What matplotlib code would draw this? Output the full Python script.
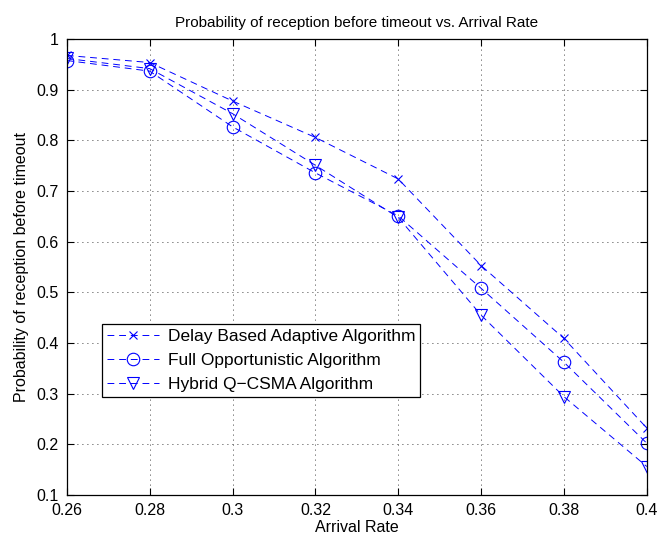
import matplotlib
matplotlib.use('Agg')
import matplotlib.pyplot as plt

# Arrival rate values (x axis)
arrival_rate = [0.26, 0.28, 0.30, 0.32, 0.34, 0.36, 0.38, 0.40]

# Probability of reception before timeout for each algorithm
delay_based = [0.968, 0.954, 0.878, 0.806, 0.724, 0.553, 0.409, 0.232]
full_opportunistic = [0.958, 0.937, 0.827, 0.736, 0.651, 0.508, 0.362, 0.202]
hybrid_qcsma = [0.962, 0.942, 0.853, 0.751, 0.648, 0.455, 0.294, 0.156]

plt.rcParams['font.family'] = ['Liberation Sans', 'DejaVu Sans']
plt.rcParams['font.size'] = 11.5

fig = plt.figure(figsize=(6.62, 5.45), dpi=100)
ax = fig.add_axes([0.101, 0.092, 0.876, 0.836])

dash = (0, (7, 5))
ax.plot(arrival_rate, delay_based, color='blue', linestyle=dash, linewidth=0.7,
        marker='x', markersize=6, markeredgewidth=0.8, label='Delay Based Adaptive Algorithm')
ax.plot(arrival_rate, full_opportunistic, color='blue', linestyle=dash, linewidth=0.7,
        marker='o', markersize=9, markerfacecolor='none', markeredgewidth=0.8,
        label='Full Opportunistic Algorithm')
ax.plot(arrival_rate, hybrid_qcsma, color='blue', linestyle=dash, linewidth=0.7,
        marker='v', markersize=9, markerfacecolor='none', markeredgewidth=0.8,
        label='Hybrid Q\u2212CSMA Algorithm')

ax.set_xlim(0.26, 0.40)
ax.set_ylim(0.1, 1.0)
ax.set_xticks([0.26, 0.28, 0.3, 0.32, 0.34, 0.36, 0.38, 0.4])
ax.set_xticklabels(['0.26', '0.28', '0.3', '0.32', '0.34', '0.36', '0.38', '0.4'])
ax.set_yticks([0.1, 0.2, 0.3, 0.4, 0.5, 0.6, 0.7, 0.8, 0.9, 1.0])
ax.set_yticklabels(['0.1', '0.2', '0.3', '0.4', '0.5', '0.6', '0.7', '0.8', '0.9', '1'])

ax.tick_params(direction='in', top=True, right=True, length=5, width=0.8)
ax.tick_params(axis='x', pad=6)
ax.tick_params(axis='y', pad=6)
ax.grid(True, linestyle=(0, (1, 5)), color='black', linewidth=0.6)
for s in ax.spines.values():
    s.set_linewidth(0.9)

ax.set_xlabel('Arrival Rate', labelpad=1)
ax.set_ylabel('Probability of reception before timeout', labelpad=5)
ax.set_title('Probability of reception before timeout vs. Arrival Rate', fontsize=11, pad=9)

leg = ax.legend(loc='lower left', bbox_to_anchor=(0.06, 0.215), fancybox=False,
                edgecolor='black', framealpha=1, handlelength=3.0, borderpad=0.3,
                labelspacing=0.5, handletextpad=0.5, borderaxespad=0, fontsize=12.5)
leg.get_frame().set_linewidth(0.9)

fig.savefig('out.png', dpi=100)
